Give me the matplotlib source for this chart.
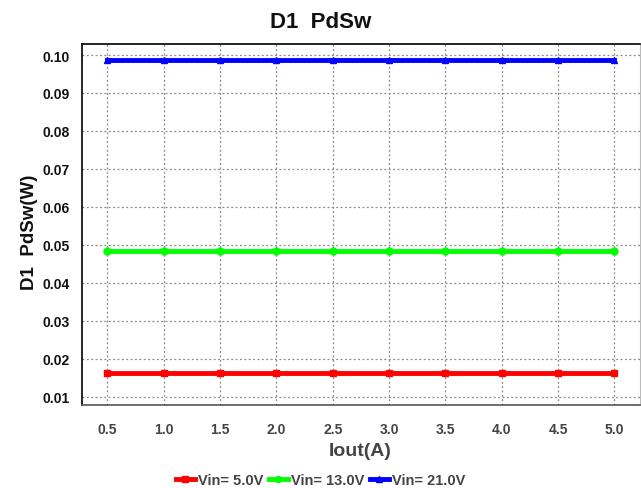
import matplotlib
matplotlib.use("Agg")
import matplotlib.pyplot as plt

plt.rcParams['font.family'] = ['Liberation Sans', 'DejaVu Sans']

iout = [0.5, 1.0, 1.5, 2.0, 2.5, 3.0, 3.5, 4.0, 4.5, 5.0]
vin5 = [0.0162] * 10
vin13 = [0.0483] * 10
vin21 = [0.0986] * 10
labels = ["Vin= 5.0V", "Vin= 13.0V", "Vin= 21.0V"]
colors = ["#ff0000", "#00ff00", "#0000ff"]
markers = ["s", "o", "^"]
xticks = [0.5, 1.0, 1.5, 2.0, 2.5, 3.0, 3.5, 4.0, 4.5, 5.0]
yticks = [0.01, 0.02, 0.03, 0.04, 0.05, 0.06, 0.07, 0.08, 0.09, 0.10]

fig = plt.figure(figsize=(6.41, 4.89), dpi=100)
ax = fig.add_axes([0.128, 0.170, 0.870, 0.738])

for ys, lab, c, m in zip([vin5, vin13, vin21], labels, colors, markers):
    ax.plot(iout, ys, color=c, lw=3.5, marker=m, ms=5, label=lab)

ax.set_xlim(0.275, 5.225)
ax.set_ylim(0.0079, 0.1029)
ax.set_xticks(xticks)
ax.set_xticklabels([f"{v:.1f}" for v in xticks], fontsize=10, fontweight='bold', color='#444444')
ax.set_yticks(yticks)
ax.set_yticklabels([f"{v:.2f}" for v in yticks], fontsize=10, fontweight='bold', color='#111111')
ax.tick_params(length=0, pad=12)
ax.tick_params(axis='y', pad=9)
ax.grid(True, color='#888888', linestyle=(0, (1.5, 2)), lw=0.9)

for s in ['left', 'top']:
    ax.spines[s].set_color('black')
    ax.spines[s].set_linewidth(1.2)
ax.spines['bottom'].set_color('#555555')
ax.spines['bottom'].set_linewidth(1.2)
ax.spines['right'].set_color('#bbbbbb')

fig.text(0.5, 0.955, "D1  PdSw", ha='center', va='center', fontsize=16, fontweight='bold', color='#111111')
fig.text(0.562, 1 - 452 / 489, "Iout(A)", ha='center', va='center', fontsize=14, fontweight='bold', color='#444444')
fig.text(29 / 641, 1 - 232 / 489, "D1  PdSw(W)", ha='center', va='center', rotation=90,
         fontsize=13.5, fontweight='bold', color='#111111')

leg = fig.legend(loc='center', bbox_to_anchor=(0.5, 1 - 481 / 489), ncol=3, frameon=False,
                 prop={'weight': 'bold', 'size': 10.5}, handlelength=1.3, handletextpad=0.2,
                 columnspacing=0.4, markerscale=0.9)
for t in leg.get_texts():
    t.set_color('#444444')

fig.savefig("out.png", dpi=100)
